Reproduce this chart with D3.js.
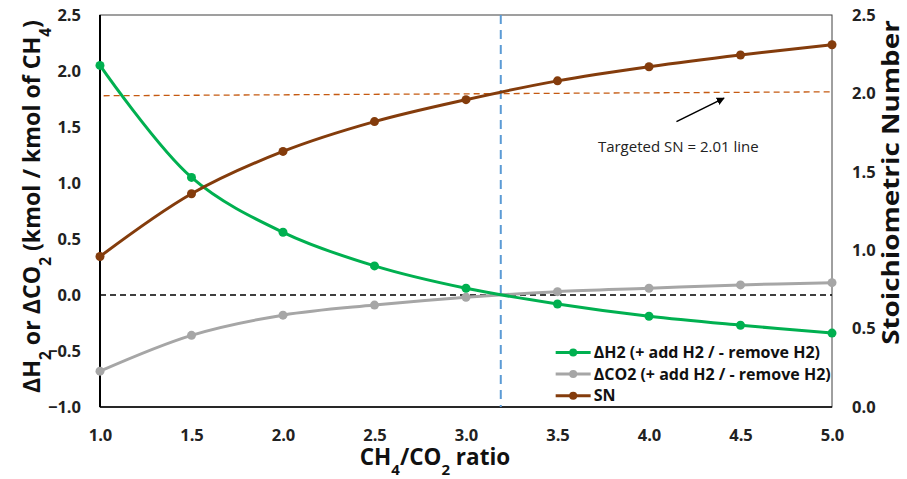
<!DOCTYPE html>
<html>
<head>
<meta charset="utf-8">
<script src="https://cdn.jsdelivr.net/npm/d3@7"></script>
<style>
  body { margin: 0; background: #fff; }
  text { font-family: "Open Sans", "Liberation Sans", sans-serif; }
</style>
</head>
<body>
<svg id="chart" width="907" height="479"></svg>
<script>
// Chart data
const ratios = [1.0, 1.5, 2.0, 2.5, 3.0, 3.5, 4.0, 4.5, 5.0];
const deltaH2 = [2.05, 1.05, 0.56, 0.26, 0.06, -0.08, -0.19, -0.27, -0.34];
const deltaCO2 = [-0.68, -0.36, -0.18, -0.09, -0.02, 0.03, 0.06, 0.09, 0.11];
const sn = [0.96, 1.36, 1.63, 1.82, 1.96, 2.08, 2.17, 2.245, 2.31];
const xTicks = [1.0, 1.5, 2.0, 2.5, 3.0, 3.5, 4.0, 4.5, 5.0];
const leftTicks = [-1.0, -0.5, 0.0, 0.5, 1.0, 1.5, 2.0, 2.5];
const rightTicks = [0.0, 0.5, 1.0, 1.5, 2.0, 2.5];
const targetLine = [[1.02, 1.985], [5.0, 2.01]];
const markerRatio = 3.19;
const legendLabels = ["ΔH2 (+ add H2 / - remove H2)", "ΔCO2 (+ add H2 / - remove H2)", "SN"];

(function () {
const margin = {top: 15, right: 75, bottom: 72, left: 100},
    width = 907 - margin.left - margin.right,
    height = 479 - margin.top - margin.bottom;

const svg = d3.select("#chart")
    .append("g")
    .attr("transform", `translate(${margin.left},${margin.top})`);

const x = d3.scaleLinear().domain([1, 5]).range([0, width]);
const yL = d3.scaleLinear().domain([-1, 2.5]).range([height, 0]);
const yR = d3.scaleLinear().domain([0, 2.5]).range([height, 0]);

// squeeze/stretch a text along its own direction to a given length
function fit(sel, len, tx, ty, rot) {
    const w = sel.node().getBBox().width;
    sel.attr("transform", `translate(${tx},${ty}) rotate(${rot}) scale(${len / w},1)`);
}

// frame
svg.append("rect")
    .attr("width", width).attr("height", height)
    .attr("fill", "none").attr("stroke", "#404040").attr("stroke-width", 1);

// axes (labels only, no tick marks)
const axL = svg.append("g")
    .call(d3.axisLeft(yL).tickValues(leftTicks).tickFormat(d3.format(".1f")).tickSize(0).tickPadding(19));
const axR = svg.append("g")
    .attr("transform", `translate(${width},0)`)
    .call(d3.axisRight(yR).tickValues(rightTicks).tickFormat(d3.format(".1f")).tickSize(0).tickPadding(20));
const axB = svg.append("g")
    .attr("transform", `translate(0,${height})`)
    .call(d3.axisBottom(x).tickValues(xTicks).tickFormat(d3.format(".1f")).tickSize(0).tickPadding(22));
[axL, axR, axB].forEach(a => {
    a.select(".domain").remove();
    a.selectAll("text")
        .style("font-family", "'Open Sans', sans-serif")
        .style("font-size", "16.5px")
        .style("font-weight", "bold")
        .attr("fill", "#222");
});

// left and bottom axis lines
svg.append("line").attr("x1", 0).attr("x2", 0).attr("y1", 0).attr("y2", height)
    .attr("stroke", "#000").attr("stroke-width", 2);
svg.append("line").attr("x1", 0).attr("x2", width).attr("y1", height).attr("y2", height)
    .attr("stroke", "#000").attr("stroke-width", 1.5);

// reference lines
svg.append("line")
    .attr("x1", x(1)).attr("x2", x(5)).attr("y1", yL(0)).attr("y2", yL(0))
    .attr("stroke", "#000").attr("stroke-width", 1.3).attr("stroke-dasharray", "6,4");
svg.append("line")
    .attr("x1", x(targetLine[0][0])).attr("x2", x(targetLine[1][0]))
    .attr("y1", yR(targetLine[0][1])).attr("y2", yR(targetLine[1][1]))
    .attr("stroke", "#C55A11").attr("stroke-width", 1.3).attr("stroke-dasharray", "6,4");
svg.append("line")
    .attr("x1", x(markerRatio)).attr("x2", x(markerRatio)).attr("y1", 0).attr("y2", height)
    .attr("stroke", "#5B9BD5").attr("stroke-width", 2).attr("stroke-dasharray", "9,6");

// series
const series = [
    {name: legendLabels[0], vals: deltaH2, y: yL, color: "#00B050"},
    {name: legendLabels[1], vals: deltaCO2, y: yL, color: "#A6A6A6"},
    {name: legendLabels[2], vals: sn, y: yR, color: "#843C0C"}
];

// draw grey first so others sit on top like the reference
[series[1], series[0], series[2]].forEach(s => {
    const pts = ratios.map((r, i) => [r, s.vals[i]]);
    const line = d3.line()
        .x(d => x(d[0])).y(d => s.y(d[1]))
        .curve(d3.curveCatmullRom.alpha(0.5));
    svg.append("path").datum(pts)
        .attr("d", line).attr("fill", "none")
        .attr("stroke", s.color).attr("stroke-width", 3);
    svg.selectAll(null).data(pts).enter().append("circle")
        .attr("cx", d => x(d[0])).attr("cy", d => s.y(d[1]))
        .attr("r", 4.5).attr("fill", s.color);
});

// annotation arrow
const defs = svg.append("defs");
defs.append("marker")
    .attr("id", "arrow").attr("viewBox", "0 0 10 10")
    .attr("refX", 9).attr("refY", 5)
    .attr("markerWidth", 5).attr("markerHeight", 5)
    .attr("orient", "auto")
    .append("path").attr("d", "M0,0 L10,5 L0,10 z").attr("fill", "#000");
svg.append("line")
    .attr("x1", x(4.15)).attr("y1", yR(1.82))
    .attr("x2", x(4.41)).attr("y2", yR(1.97))
    .attr("stroke", "#000").attr("stroke-width", 1.6)
    .attr("marker-end", "url(#arrow)");
svg.append("text")
    .attr("x", x(4.16)).attr("y", yR(1.625))
    .attr("text-anchor", "middle")
    .style("font-size", "15px")
    .attr("fill", "#222")
    .text("Targeted SN = 2.01 line");

// legend
const leg = svg.append("g").attr("transform", `translate(${x(3.49)},${yL(-0.5) + 1.5})`);
series.forEach((s, i) => {
    const g = leg.append("g").attr("transform", `translate(0,${i * 21.6})`);
    g.append("line").attr("x1", 0).attr("x2", 35).attr("y1", 0).attr("y2", 0)
        .attr("stroke", s.color).attr("stroke-width", 3);
    g.append("circle").attr("cx", 17.5).attr("cy", 0).attr("r", 4).attr("fill", s.color);
    g.append("text").attr("x", 38).attr("y", 0).attr("dy", "0.35em")
        .style("font-size", "16px").style("font-weight", "bold")
        .attr("fill", "#111")
        .text(s.name);
});

// axis titles
const xt = svg.append("text")
    .attr("x", width / 2 - 31).attr("y", height + 58)
    .attr("text-anchor", "middle")
    .style("font-size", "22.5px").style("font-weight", "bold")
    .attr("fill", "#111");
xt.append("tspan").text("CH");
xt.append("tspan").attr("baseline-shift", "sub").style("font-size", "15px").text("4");
xt.append("tspan").text("/CO");
xt.append("tspan").attr("baseline-shift", "sub").style("font-size", "15px").text("2");
xt.append("tspan").text(" ratio");

const lt = svg.append("text")
    .attr("text-anchor", "middle")
    .style("font-size", "24px").style("font-weight", "bold")
    .attr("fill", "#111");
lt.append("tspan").text("ΔH");
lt.append("tspan").attr("baseline-shift", "sub").style("font-size", "16px").text("2");
lt.append("tspan").text("  or ΔCO");
lt.append("tspan").attr("baseline-shift", "sub").style("font-size", "16px").text("2");
lt.append("tspan").text(" (kmol / kmol of CH");
lt.append("tspan").attr("baseline-shift", "sub").style("font-size", "16px").text("4");
lt.append("tspan").text(")");
fit(lt, 373, -60, 191.5, -90);

const rt = svg.append("text")
    .attr("text-anchor", "middle")
    .style("font-size", "23.5px").style("font-weight", "bold")
    .attr("fill", "#111")
    .text("Stoichiometric Number");
fit(rt, 325, width + 67, 167.5, -90);
})();
</script>
</body>
</html>
